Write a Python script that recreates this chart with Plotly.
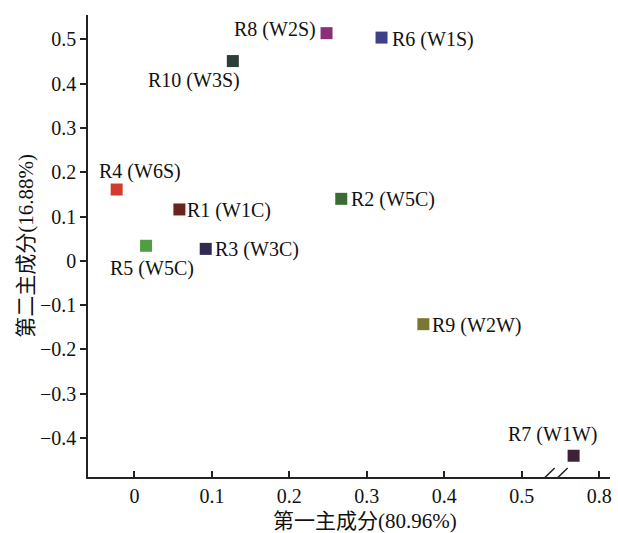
import plotly.graph_objects as go

# Data
labels = ["R1 (W1C)", "R2 (W5C)", "R3 (W3C)", "R4 (W6S)", "R5 (W5C)",
          "R6 (W1S)", "R7 (W1W)", "R8 (W2S)", "R9 (W2W)", "R10 (W3S)"]
pc1 = [0.058, 0.267, 0.092, -0.023, 0.015, 0.319, 0.767, 0.248, 0.373, 0.127]
pc2 = [0.116, 0.140, 0.027, 0.161, 0.034, 0.504, -0.440, 0.514, -0.143, 0.451]
colors = ["#6B2320", "#3D6B35", "#2F2A4F", "#D33B2D", "#4F9E3F",
          "#3E4187", "#3F2137", "#8C2F7B", "#7A7633", "#2B3E37"]
x_tick_vals = [0, 0.1, 0.2, 0.3, 0.4, 0.5, 0.8]
x_tick_text = ["0", "0.1", "0.2", "0.3", "0.4", "0.5", "0.8"]
y_tick_vals = [-0.4, -0.3, -0.2, -0.1, 0, 0.1, 0.2, 0.3, 0.4, 0.5]
y_tick_text = ["\u22120.4", "\u22120.3", "\u22120.2", "\u22120.1", "0",
               "0.1", "0.2", "0.3", "0.4", "0.5"]
x_title = "第一主成分(80.96%)"
y_title = "第二主成分(16.88%)"

# broken x axis: values above 0.5 are shifted left by the gap
BREAK_LO, BREAK_HI = 0.5, 0.7


def bx(v):
    return v if v <= BREAK_LO else v - (BREAK_HI - BREAK_LO)


# label placement: (xanchor, yanchor, xshift, yshift)
label_place = [
    ("left", "middle", 6, -1),     # R1
    ("left", "middle", 8, -1),     # R2
    ("left", "middle", 7, -1),     # R3
    ("left", "bottom", -20, 5),    # R4
    ("center", "top", 6, -9),      # R5
    ("left", "middle", 8, -2),     # R6
    ("right", "bottom", 25, 8),    # R7
    ("right", "middle", -9, 4),    # R8
    ("left", "middle", 7, -1),     # R9
    ("right", "top", 9, -6),       # R10
]

FONT = "Liberation Serif, Times New Roman, serif"
CJK = "Liberation Serif, Noto Sans CJK SC, serif"
FS = 20

fig = go.Figure()
fig.add_trace(go.Scatter(
    x=[bx(v) for v in pc1], y=pc2, mode="markers",
    marker=dict(symbol="square", size=12, color=colors, line=dict(width=0)),
    hoverinfo="skip", showlegend=False))

for lab, xv, yv, (xa, ya, xs, ys) in zip(labels, pc1, pc2, label_place):
    fig.add_annotation(x=bx(xv), y=yv, text=lab, showarrow=False,
                       xanchor=xa, yanchor=ya, xshift=xs, yshift=ys,
                       font=dict(family=FONT, size=FS, color="#111"))

# x-axis title (placed slightly right of centre, as in the original)
fig.add_annotation(x=0.531, y=-0.095, xref="paper", yref="paper",
                   text=x_title, showarrow=False,
                   xanchor="center", yanchor="middle",
                   font=dict(family=CJK, size=21, color="#111"))

# axis break marks
for x0 in (0.5226, 0.5393):
    fig.add_shape(type="line", xref="x", yref="y",
                  x0=x0, y0=-0.5016, x1=x0 + 0.02, y1=-0.4677,
                  line=dict(color="#222", width=1.5))

fig.update_layout(
    width=618, height=533,
    margin=dict(l=88, r=8, t=15, b=56, autoexpand=False),
    plot_bgcolor="white", paper_bgcolor="white",
    font=dict(family=FONT, size=FS, color="#111"),
    xaxis=dict(range=[-0.060, 0.614], showgrid=False, zeroline=False,
               automargin=False,
               showline=True, linecolor="#222", linewidth=1.5,
               ticks="inside", ticklen=6, tickcolor="#222", tickwidth=1.5,
               tickvals=[bx(v) for v in x_tick_vals], ticktext=x_tick_text,
               tickfont=dict(family=FONT, size=FS)),
    yaxis=dict(range=[-0.488, 0.555], showgrid=False, zeroline=False,
               automargin=False,
               showline=True, linecolor="#222", linewidth=1.5,
               ticks="outside", ticklen=6, tickcolor="#222", tickwidth=1.5,
               tickvals=y_tick_vals, ticktext=y_tick_text,
               tickfont=dict(family=FONT, size=FS),
               title=dict(text=y_title, font=dict(family=CJK, size=21),
                          standoff=1)),
)
fig.write_html("out.html", config={"displayModeBar": False})

# remove the browser's default page margin so the figure fills the window
with open("out.html", encoding="utf-8") as f:
    html = f.read()
html = html.replace("<body>", '<body style="margin:0;padding:0;">', 1)
with open("out.html", "w", encoding="utf-8") as f:
    f.write(html)
